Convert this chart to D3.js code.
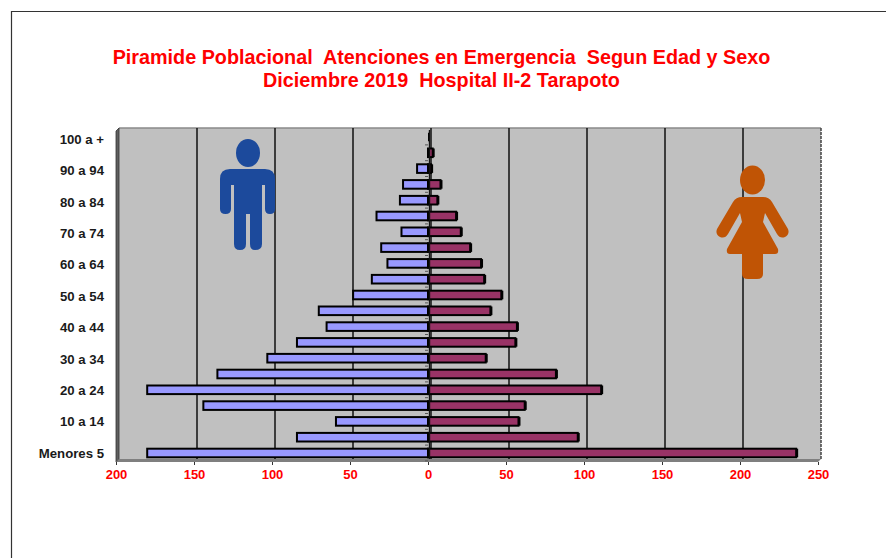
<!DOCTYPE html>
<html><head><meta charset="utf-8">
<script src="https://cdn.jsdelivr.net/npm/d3@7"></script>
<style>
html,body{margin:0;padding:0;background:#fff}
svg{display:block}
text{font-family:"Liberation Sans",Arial,sans-serif;font-weight:bold;white-space:pre}
</style></head><body><div id="c"></div>
<script>
const categories=["Menores 5","5 a 9","10 a 14","15 a 19","20 a 24","25 a 29","30 a 34","35 a 39","40 a 44","45 a 49","50 a 54","55 a 59","60 a 64","65 a 69","70 a 74","75 a 79","80 a 84","85 a 89","90 a 94","95 a 99","100 a +"];
const hombres=[180,84,59,144,180,135,103,84,65,70,48,36,26,30,17,33,18,16,7,0,0];
const mujeres=[236,96,58,62,111,82,37,56,57,40,47,36,34,27,21,18,6,8,2,3,0];
const xTicks=[-200,-150,-100,-50,0,50,100,150,200,250];
const titulo=["Piramide Poblacional  Atenciones en Emergencia  Segun Edad y Sexo","Diciembre 2019  Hospital II-2 Tarapoto"];

const W=886,H=558;
const svg=d3.select("#c").append("svg").attr("width",W).attr("height",H);
const x=d3.scaleLinear().domain([-200,250]).range([116,818]);
const y=d3.scalePoint().domain(categories).range([453,139]);
const yBar=d3.scalePoint().domain(categories).range([453,137]);
const depth=3, wallTop=128, wallBottom=459, floorBottom=462;
const fontFam='"Liberation Sans",Arial,sans-serif';

// outer frame
svg.append("path").attr("d",`M11.5 558V11.5H886`).attr("fill","none").attr("stroke","#333").attr("stroke-width",1.2);

// title
svg.append("g").selectAll("text").data(titulo).join("text")
 .attr("x",441.5).attr("y",(d,i)=>64+i*23).attr("text-anchor","middle")
 .attr("font-size",19.8).attr("fill","#ff0000").text(d=>d);

// 3D chart box
svg.append("rect").attr("x",x(-200)+depth).attr("y",wallTop).attr("width",x(250)-x(-200)).attr("height",wallBottom-wallTop).attr("fill","#c0c0c0");
svg.append("path").attr("d",`M${x(-200)+depth} ${wallTop}H${x(250)+depth}`).attr("stroke","#8a8a8a").attr("stroke-width",1.5);
svg.append("path").attr("d",`M${x(-200)} ${wallTop+3}L${x(-200)+depth} ${wallTop}V${wallBottom}L${x(-200)} ${floorBottom}Z`).attr("fill","#606060").attr("stroke","#333").attr("stroke-width",.8);
svg.append("path").attr("d",`M${x(-200)} ${floorBottom}L${x(-200)+depth} ${wallBottom}H${x(250)+depth}L${x(250)} ${floorBottom}Z`).attr("fill","#7f7f7f");

// gridlines on back wall
svg.append("g").selectAll("line").data(xTicks.filter(d=>d!==-200)).join("line")
 .attr("x1",d=>x(d)+depth).attr("x2",d=>x(d)+depth).attr("y1",wallTop).attr("y2",wallBottom)
 .attr("stroke",d=>d===250?"#444":"#111").attr("stroke-width",1.5)
 .attr("stroke-dasharray",d=>d===250?"3 1":null);

// x axis
const ax=svg.append("g").attr("transform",`translate(0,${floorBottom})`)
 .call(d3.axisBottom(x).tickValues(xTicks).tickFormat(d=>Math.abs(d)).tickSize(3).tickPadding(5));
ax.select(".domain").remove();
ax.selectAll("line").attr("stroke","#333");
ax.selectAll("text").attr("font-size",13).attr("fill","#ff0000").attr("font-family",fontFam);

// y axis labels
const ay=svg.append("g").attr("transform","translate(104,0)")
 .call(d3.axisLeft(y).tickValues(categories.filter((d,i)=>i%2===0)).tickSize(0).tickPadding(0));
ay.select(".domain").remove();
ay.selectAll("text").attr("font-size",13.2).attr("fill","#1a1a1a").attr("font-family",fontFam);

// tick marks at zero axis
const step=yBar.step();
svg.append("g").selectAll("line").data(categories).join("line")
 .attr("x1",x(0)-3).attr("x2",x(0)).attr("y1",d=>yBar(d)+step/2).attr("y2",d=>yBar(d)+step/2)
 .attr("stroke","#555").attr("stroke-width",1);

// bars
const barH=8.6;
const rows=categories.map((c,i)=>({c,h:hombres[i],m:mujeres[i]}));
svg.append("g").selectAll("rect").data(rows).join("rect")
 .attr("x",d=>x(-d.h)).attr("y",d=>yBar(d.c)-barH/2)
 .attr("width",d=>x(0)-x(-d.h)).attr("height",barH)
 .attr("fill","#9999ff").attr("stroke","#000").attr("stroke-width",2);
svg.append("g").selectAll("rect").data(rows).join("rect")
 .attr("x",x(0)).attr("y",d=>yBar(d.c)-barH/2)
 .attr("width",d=>x(d.m)-x(0)).attr("height",barH)
 .attr("fill","#993366").attr("stroke","#000").attr("stroke-width",2);
// 3D right edge of female bars
svg.append("g").selectAll("line").data(rows).join("line")
 .attr("x1",d=>x(d.m)+1).attr("x2",d=>x(d.m)+1)
 .attr("y1",d=>yBar(d.c)-barH/2).attr("y2",d=>yBar(d.c)+barH/2)
 .attr("stroke","#000").attr("stroke-width",2);
// zero line in front
svg.append("line").attr("x1",x(0)+1.5).attr("x2",x(0)+1.5).attr("y1",wallTop+2).attr("y2",wallBottom)
 .attr("stroke","#111").attr("stroke-width",1.4);

// male icon
const male=svg.append("g").attr("fill","#1c4a9c");
male.append("ellipse").attr("cx",248).attr("cy",153).attr("rx",12).attr("ry",14);
male.append("path").attr("d","M230 169H265Q275 169 275 179V209Q275 214 270 214Q265 214 265 209V185H262V244Q262 250 255 250Q250 250 250 244V214H246V244Q246 250 240 250Q234 250 234 244V185H231V209Q231 214 225.500 214Q220 214 220 209V179Q220 169 230 169Z");

// female icon
const female=svg.append("g").attr("fill","#c05405");
female.append("ellipse").attr("cx",752.500).attr("cy",180).attr("rx",12.500).attr("ry",14.500);
female.append("path").attr("d","M742 197H763Q769 197 772 202L788 229Q790 234 785 237Q780 239 777 234L765 213L763 222L778 249Q779 254 775 254H763V274Q763 279 757 279H748Q742 279 742 274V254H730Q726 254 727 249L742 222L740 213L728 234Q725 239 720 237Q715 234 717 229L733 202Q736 197 742 197Z");
</script></body></html>
